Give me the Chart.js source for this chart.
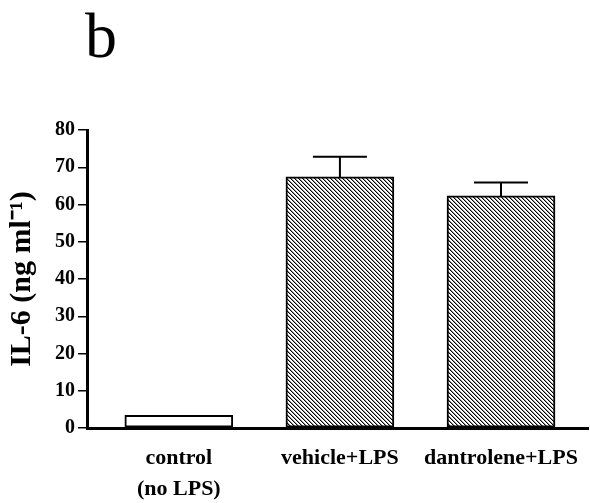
<!DOCTYPE html>
<html><head><meta charset="utf-8">
<script src="https://cdn.jsdelivr.net/npm/chart.js@4"></script>
<style>html,body{margin:0;padding:0;background:#fff}#wrap{width:590px;height:503px;position:relative}</style>
</head><body><div id="wrap"><canvas id="c" width="590" height="503"></canvas></div>
<script>
// ---- data ----
const categories = [["control", "(no LPS)"], ["vehicle+LPS"], ["dantrolene+LPS"]];
const il6Means = [3.4, 67.4, 62.3];
const il6Errors = [0, 5.4, 3.6];
const yTicks = [0, 10, 20, 30, 40, 50, 60, 70, 80];
const yTitle = "IL-6 (ng ml\u207B\u00B9)";
const panelLetter = "b";

const SERIF = "'Liberation Serif', 'Times New Roman', serif";

function hatchPattern(ctx) {
  const c = document.createElement('canvas');
  c.width = 4; c.height = 4;
  const x = c.getContext('2d');
  x.fillStyle = '#fff'; x.fillRect(0, 0, 4, 4);
  for (let i = 0; i < 4; i++) {
    x.fillStyle = '#000'; x.fillRect(i, i, 1, 1);
    x.fillStyle = '#999'; x.fillRect((i + 1) % 4, i, 1, 1);
  }
  return ctx.createPattern(c, 'repeat');
}

const ctx = document.getElementById('c').getContext('2d');
const hatch = hatchPattern(ctx);

const errorBars = {
  id: 'errorBars',
  afterDatasetsDraw(chart) {
    const meta = chart.getDatasetMeta(0);
    const y = chart.scales.y;
    const c = chart.ctx;
    c.save();
    c.strokeStyle = '#000';
    c.lineWidth = 2;
    meta.data.forEach((bar, i) => {
      const e = il6Errors[i];
      if (!e) return;
      const top = y.getPixelForValue(il6Means[i] + e);
      const half = bar.width / 4;
      c.beginPath();
      c.moveTo(bar.x, bar.y);
      c.lineTo(bar.x, top);
      c.moveTo(bar.x - half, top);
      c.lineTo(bar.x + half, top);
      c.stroke();
    });
    c.restore();
  }
};

const panelLabel = {
  id: 'panelLabel',
  afterDraw(chart) {
    const c = chart.ctx;
    c.save();
    c.fillStyle = '#000';
    c.font = "64px " + SERIF;
    c.textBaseline = 'alphabetic';
    c.textAlign = 'left';
    c.fillText(panelLetter, 85, 57);
    c.restore();
  }
};

new Chart(ctx, {
  type: 'bar',
  data: {
    datasets: [{
      data: categories.map((_, i) => ({ x: i + 1, y: il6Means[i] })),
      backgroundColor: categories.map((_, i) => i === 0 ? '#fff' : hatch),
      borderColor: '#000',
      borderWidth: 2,
      borderSkipped: false,
      barThickness: 108
    }]
  },
  options: {
    responsive: false,
    devicePixelRatio: 1,
    animation: false,
    layout: { padding: { top: 130, right: 2, left: 0, bottom: 0 } },
    plugins: { legend: { display: false }, tooltip: { enabled: false } },
    scales: {
      x: {
        type: 'linear',
        offset: false,
        bounds: 'ticks',
        min: 0.43, max: 3.54,
        afterBuildTicks: s => { s.ticks = categories.map((_, i) => ({ value: i + 1 })); },
        afterFit: s => { s.height = 75; s.paddingLeft = 0; s.paddingRight = 0; },
        grid: { display: false, drawTicks: false, offset: false },
        border: { display: true, color: '#000', width: 3 },
        ticks: {
          callback: v => categories[v - 1],
          color: '#000',
          padding: 15,
          maxRotation: 0,
          autoSkip: false,
          font: { family: SERIF, size: 22, weight: 'bold', lineHeight: 1.4 }
        }
      },
      y: {
        min: 0, max: 80,
        afterBuildTicks: s => { s.ticks = yTicks.map(v => ({ value: v })); },
        afterFit: s => { s.width = 87; },
        grid: { drawOnChartArea: false, drawTicks: true, tickLength: 9, color: '#000', lineWidth: 1.5 },
        border: { display: true, color: '#000', width: 3 },
        ticks: {
          color: '#000',
          padding: 3,
          font: { family: SERIF, size: 20, weight: 'bold' }
        },
        title: {
          display: true,
          text: yTitle,
          color: '#000',
          padding: { top: 4, bottom: 0 },
          font: { family: SERIF, size: 30, weight: 'bold' }
        }
      }
    }
  },
  plugins: [errorBars, panelLabel]
});
</script></body></html>
